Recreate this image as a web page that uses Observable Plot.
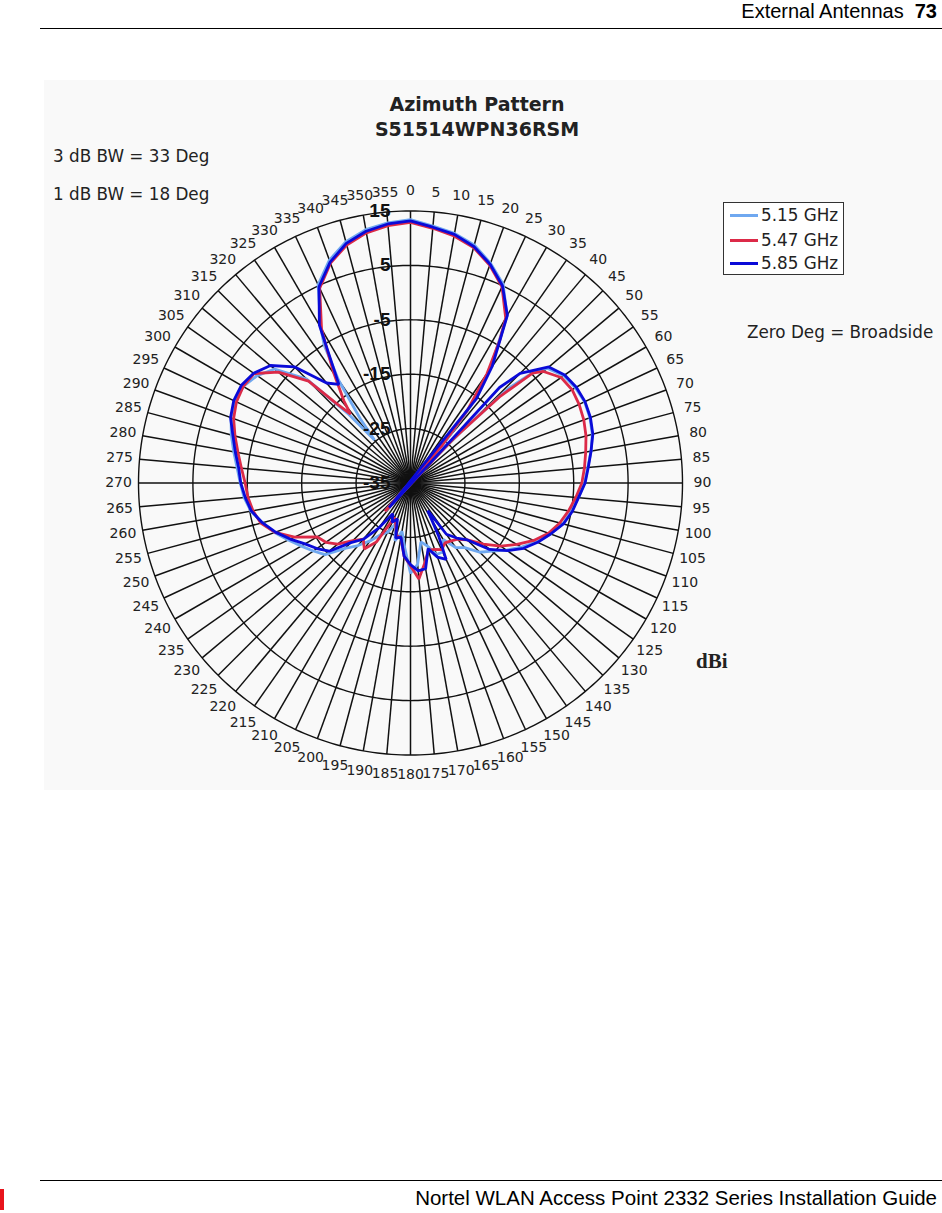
<!DOCTYPE html>
<html><head><meta charset="utf-8">
<script src="https://cdn.jsdelivr.net/npm/d3@7"></script>
<script src="https://cdn.jsdelivr.net/npm/@observablehq/plot@0.6"></script>
<style>
body{margin:0;background:#fff;}
#page{position:relative;width:942px;height:1213px;overflow:hidden;font-family:"Liberation Sans",Arial,sans-serif;color:#000;}
.abs{position:absolute;white-space:nowrap;}
#panel{position:absolute;left:44px;top:80px;width:898px;height:710px;background:#f9f9f9;}
.ct{font-family:"DejaVu Sans",Verdana,sans-serif;color:#222;}
#legend{position:absolute;left:723px;top:202px;width:121px;height:73px;border:1px solid #333;background:#fff;box-sizing:border-box;}
.li{position:absolute;left:6px;height:24px;font-family:"DejaVu Sans",Verdana,sans-serif;font-size:16.8px;color:#222;line-height:24px;}
.li span{display:inline-block;width:28px;height:3px;vertical-align:middle;margin-right:3px;position:relative;top:-1px;}
</style></head><body>
<div id="page">
  <div class="abs" style="right:5px;top:-1px;font-size:20px;line-height:24px;">External Antennas&nbsp;&nbsp;<b>73</b></div>
  <div class="abs" style="left:40px;top:28px;width:902px;height:1px;background:#000;"></div>
  <div id="panel"></div>
  <div class="abs ct" style="left:0;width:954px;text-align:center;top:92px;font-size:19px;font-weight:bold;line-height:25px;">Azimuth Pattern<br>S51514WPN36RSM</div>
  <div class="abs ct" style="left:53px;top:146px;font-size:16.8px;">3 dB BW = 33 Deg</div>
  <div class="abs ct" style="left:53px;top:184px;font-size:16.8px;">1 dB BW = 18 Deg</div>
  <div id="legend">
    <div class="li" style="top:0px"><span style="background:#6fa8f0"></span>5.15 GHz</div>
    <div class="li" style="top:25px"><span style="background:#dc2a48"></span>5.47 GHz</div>
    <div class="li" style="top:49px;height:22px;line-height:22px;"><span style="background:#0a0ad8"></span>5.85 GHz</div>
  </div>
  <div class="abs ct" style="left:747px;top:322px;font-size:16.8px;">Zero Deg = Broadside</div>
  <div class="abs" style="left:696px;top:649px;font-family:'Liberation Serif','Times New Roman',serif;font-weight:bold;font-size:21px;color:#222;">dBi</div>
  <div id="chart"></div>
  <div class="abs" style="left:40px;top:1180px;width:902px;height:1px;background:#000;"></div>
  <div class="abs" style="right:5px;top:1186px;font-size:20.5px;line-height:24px;">Nortel WLAN Access Point 2332 Series Installation Guide</div>
  <div class="abs" style="left:0;top:1189px;width:4px;height:21px;background:#e8141c;"></div>
</div>
<script>
// ---- scale / tick values ----
const gainMin = -35, gainMax = 15;
const ringValues = [-35, -25, -15, -5, 5, 15];
const spokeAngles = d3.range(0, 360, 5);
const seriesNames = ["5.15 GHz", "5.47 GHz", "5.85 GHz"];
const seriesColors = ["#6fa8f0", "#dc2a48", "#0a0ad8"];

// ---- 5.15 GHz ----
const angles515 = [0,5,10,15,20,25,30,35,38,40,42,44,46,48,50,55,60,65,70,75,80,85,90,95,100,105,110,115,120,125,130,135,140,145,150,155,160,165,170,175,180,185,190,195,200,205,210,215,220,225,230,235,240,245,250,255,260,265,270,275,280,285,290,295,300,305,310,315,318,320,322,325,328,330,335,340,345,350,355];
const gain515 = [13.4,12.4,11.6,10.3,8.0,5.3,0.5,-9.5,-17,-25,-42,-24,-10,-4.5,-2.2,-0.6,0.0,0.3,0.1,-0.4,-1.3,-2.3,-3.0,-4.0,-5.0,-6.0,-7.6,-9.4,-11.4,-13.5,-15.5,-17,-19.5,-20.5,-23,-21,-21,-23,-24,-20,-18.4,-23,-26,-24,-27,-25,-24,-22,-20,-18,-14.5,-13.2,-11.8,-10.2,-8.4,-6.8,-5.2,-4.3,-3.7,-3.0,-2.0,-0.9,0.1,0.6,0.5,-0.6,-2.4,-8,-18,-24.7,-20,-12,-5,-2.0,5.2,8.6,10.9,12.3,13.0];

// ---- 5.47 GHz ----
const angles547 = [0,5,10,15,20,25,30,32,35,38,40,42,44,46,48,50,55,60,65,70,75,80,85,90,95,100,105,110,115,120,125,130,135,140,145,150,155,160,165,170,175,180,185,190,195,200,205,210,215,220,225,230,235,240,245,250,255,260,265,270,275,280,285,290,295,300,305,310,315,317,319,321,325,328,330,335,340,345,350,355];
const gain547 = [12.9,12.0,11.1,9.8,7.6,4.8,0.0,-4,-10.5,-18,-26,-42,-24,-12,-4.8,-3.1,-1.2,-0.7,-0.8,-1.1,-1.6,-2.3,-2.9,-3.5,-4.5,-5.5,-6.6,-8.0,-10.0,-12.4,-14.8,-17.5,-20.2,-21.5,-22,-22.3,-21.5,-22,-22.2,-20,-17.3,-19.8,-21.5,-24.8,-25,-27,-28,-22.5,-20.2,-21.5,-20,-17.5,-16,-15.2,-11.5,-8.5,-6.5,-5.6,-5.0,-4.6,-3.8,-2.8,-1.6,-0.4,0.3,0.5,0.1,-3.3,-8.5,-15,-18.2,-15.5,-10.5,-6,-2.3,4.5,8.0,10.3,11.7,12.5];

// ---- 5.85 GHz ----
const angles585 = [0,5,10,15,20,25,30,35,38,41,43,45,50,55,60,65,70,75,80,85,90,95,100,105,110,115,120,125,130,135,140,145,148,152,155,160,165,170,175,180,185,190,195,200,205,210,215,220,225,230,235,240,245,250,255,260,265,270,275,280,285,290,295,300,305,310,315,320,324,330,335,340,345,350,355];
const gain585 = [13.2,12.2,11.4,10.0,7.8,5.0,0.6,-8.8,-15.3,-41,-11,-6.5,-1.8,-0.4,0.2,0.4,0.2,-0.3,-1.3,-2.2,-2.9,-4.0,-4.8,-5.9,-7.6,-9.2,-11.0,-13.3,-16.0,-20.2,-21.8,-23.5,-29,-24,-19.5,-20.5,-22.5,-19.0,-18.8,-20.0,-21.5,-24.9,-24.5,-28,-27,-28.5,-25,-21.5,-19.5,-15.5,-14.0,-12.6,-10.6,-8.6,-6.8,-5.3,-4.5,-3.8,-3.3,-2.3,-1.2,0.2,0.85,0.9,0.2,-1.4,-4.8,-11.0,-12.6,-1.5,4.8,8.2,10.6,12.0,12.8];

// ---- build table for the library ----
const rows = [];
[[seriesNames[0], angles515, gain515], [seriesNames[1], angles547, gain547], [seriesNames[2], angles585, gain585]]
  .forEach(([name, as, gs]) => as.forEach((a, i) => rows.push({series: name, angle: a, gain: gs[i]})));

const rad = a => a * Math.PI / 180;
const polX = (a, g) => (g - gainMin) * Math.sin(rad(a));
const polY = (a, g) => (g - gainMin) * Math.cos(rad(a));

// ring grid (sampled circles)
const ringRows = [];
ringValues.slice(1).forEach(v => d3.range(0, 361, 1).forEach(a => ringRows.push({ring: v, angle: a})));

// layout
const W = 898, H = 710, pxPerDb = 272 / (gainMax - gainMin);
const cx = 366, cy = 402.5;
const xDomain = [-cx / pxPerDb, (W - cx) / pxPerDb];
const yDomain = [-(H - cy) / pxPerDb, cy / pxPerDb];
const labelGain = gainMin + 292 / pxPerDb;

const chart = Plot.plot({
  width: W, height: H, margin: 0,
  x: {domain: xDomain, axis: null},
  y: {domain: yDomain, axis: null},
  color: {domain: seriesNames, range: seriesColors},
  style: {background: "transparent", overflow: "visible"},
  marks: [
    Plot.link(spokeAngles, {
      x1: 0, y1: 0,
      x2: a => polX(a, gainMax), y2: a => polY(a, gainMax),
      stroke: "#111", strokeWidth: 1.5
    }),
    Plot.line(ringRows, {
      x: d => polX(d.angle, d.ring), y: d => polY(d.angle, d.ring),
      z: "ring", stroke: "#111", strokeWidth: 1.4
    }),
    Plot.line(rows, {
      x: d => polX(d.angle, d.gain), y: d => polY(d.angle, d.gain),
      z: "series", stroke: "series", strokeWidth: 2.8, curve: "linear-closed",
      strokeLinejoin: "miter"
    }),
    Plot.text(spokeAngles, {
      x: a => polX(a, labelGain), y: a => polY(a, labelGain),
      text: a => String(a), fontSize: 14, fill: "#222",
      fontFamily: "DejaVu Sans, Verdana, sans-serif", textAnchor: "middle"
    }),
    Plot.text(ringValues, {
      x: 0, y: v => v - gainMin, text: v => String(v), dx: -20,
      textAnchor: "end", fontSize: 19, fontWeight: "bold", fill: "#111",
      fontFamily: "Liberation Sans, Arial, sans-serif"
    })
  ]
});
chart.style.position = "absolute";
chart.style.left = "44px";
chart.style.top = "80px";
document.getElementById("chart").appendChild(chart);
</script>
</body></html>
